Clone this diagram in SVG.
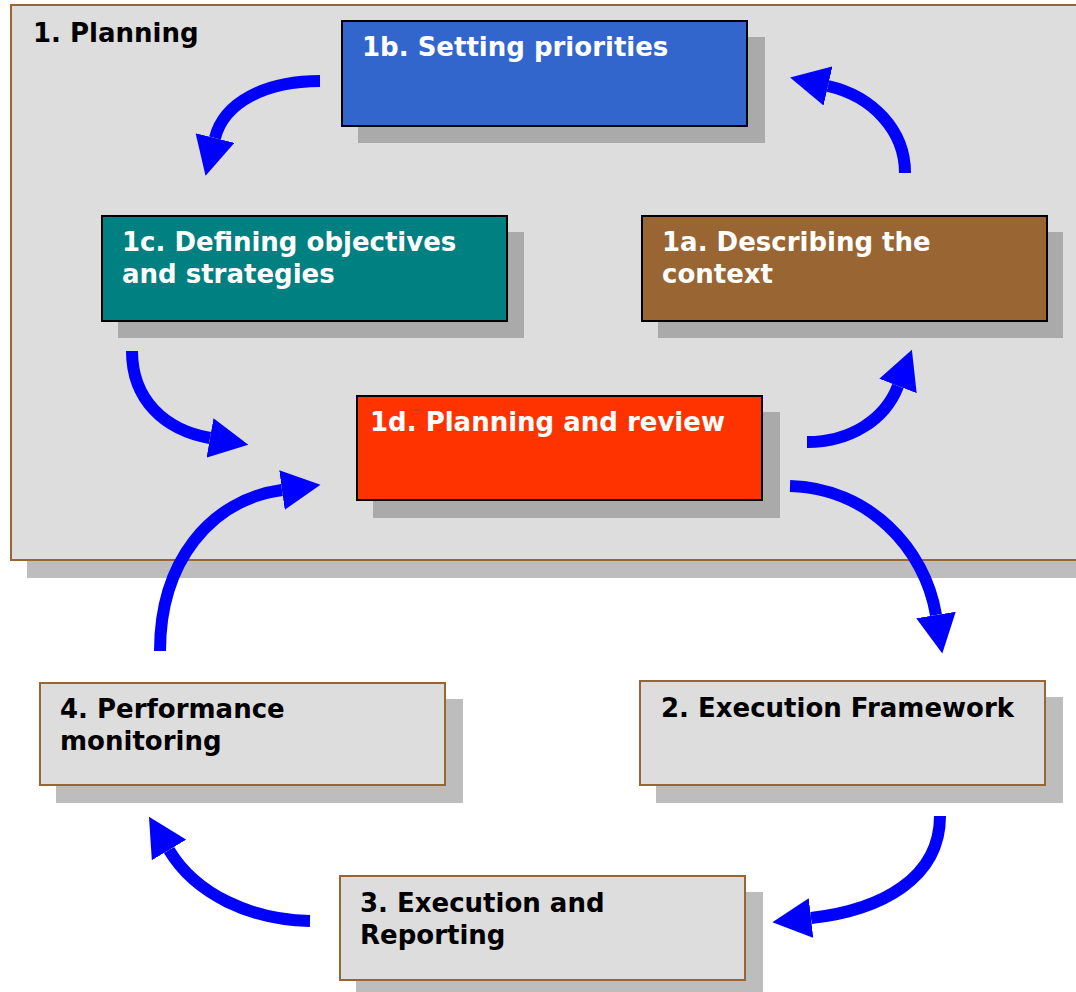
<svg xmlns="http://www.w3.org/2000/svg" width="1076" height="992" viewBox="0 0 1076 992">
<style>
text{font-family:"DejaVu Sans","Verdana",sans-serif;font-weight:bold;font-size:26px}
.w{fill:#ffffff}
.k{fill:#000000}
.sh{fill:#aaaaaa}
.sho{fill:#bdbdbd}
.inner{stroke:#000000;stroke-width:2}
.outer{fill:#dddddd;stroke:#996633;stroke-width:2}
.arr{fill:none;stroke:#0000ff;stroke-width:12;marker-end:url(#head)}
</style>
<defs>
<marker id="head" markerUnits="userSpaceOnUse" markerWidth="40" markerHeight="40" viewBox="0 0 36 36" refX="0" refY="18" orient="auto">
<path d="M0,0 L35,18 L0,36 z" fill="#0000ff"/>
</marker>
</defs>
<rect x="0" y="0" width="1076" height="992" fill="#ffffff"/>
<g id="planning">
<rect class="sho" x="27" y="21" width="1080" height="557"/>
<rect class="outer" x="11" y="5" width="1080" height="555"/>
<text class="k" x="33" y="42">1. Planning</text>
</g>
<g id="n1b">
<rect class="sh" x="358" y="37" width="407" height="106"/>
<rect class="inner" x="342" y="21" width="405" height="105" fill="#3366cc"/>
<text class="w" x="362" y="56">1b. Setting priorities</text>
</g>
<g id="n1c">
<rect class="sh" x="118" y="232" width="406" height="106"/>
<rect class="inner" x="102" y="216" width="405" height="105" fill="#008080"/>
<text class="w" x="122" y="251">1c. Defining objectives</text>
<text class="w" x="122" y="283">and strategies</text>
</g>
<g id="n1a">
<rect class="sh" x="658" y="232" width="405" height="106"/>
<rect class="inner" x="642" y="216" width="405" height="105" fill="#996633"/>
<text class="w" x="662" y="251">1a. Describing the</text>
<text class="w" x="662" y="283">context</text>
</g>
<g id="n1d">
<rect class="sh" x="373" y="412" width="407" height="106"/>
<rect class="inner" x="357" y="396" width="405" height="104" fill="#ff3300"/>
<text class="w" x="370" y="431">1d. Planning and review</text>
</g>
<g id="n4">
<rect class="sho" x="56" y="699" width="407" height="104"/>
<rect class="outer" x="40" y="683" width="405" height="102"/>
<text class="k" x="60" y="718">4. Performance</text>
<text class="k" x="60" y="750">monitoring</text>
</g>
<g id="n2">
<rect class="sho" x="656" y="697" width="407" height="106"/>
<rect class="outer" x="640" y="681" width="405" height="104"/>
<text class="k" x="661" y="717">2. Execution Framework</text>
</g>
<g id="n3">
<rect class="sho" x="356" y="892" width="407" height="106"/>
<rect class="outer" x="340" y="876" width="405" height="104"/>
<text class="k" x="360" y="912">3. Execution and</text>
<text class="k" x="360" y="944">Reporting</text>
</g>
<g id="connectors">
<path class="arr" d="M320,81 C266,81 224,102 215,138"/>
<path class="arr" d="M905,173 C905,130 872,96 828,86"/>
<path class="arr" d="M132,351 C132,400 165,430 210,438"/>
<path class="arr" d="M807,442 C850,442 885,420 898,386"/>
<path class="arr" d="M790,486 C868,488 925,548 936,615"/>
<path class="arr" d="M160,651 C160,562 210,500 282,490"/>
<path class="arr" d="M940,816 C940,878 882,910 811,918"/>
<path class="arr" d="M310,921 C252,920 196,895 169,850"/>
</g>
</svg>
